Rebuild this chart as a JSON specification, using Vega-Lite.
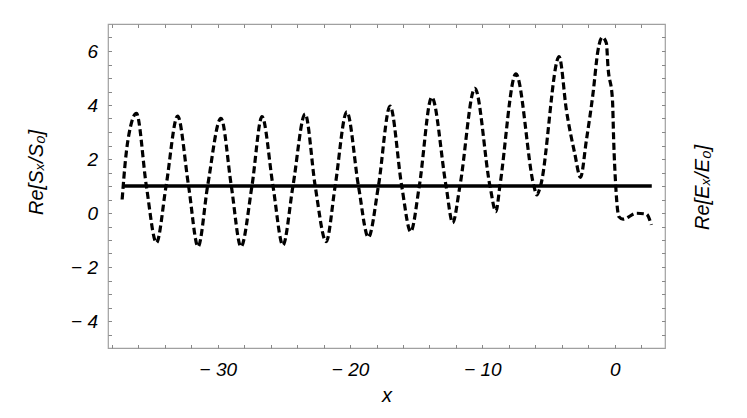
{
  "$schema": "https://vega.github.io/schema/vega-lite/v6.json",
  "width": 557,
  "height": 324,
  "autosize": "none",
  "padding": {"left": 108, "top": 24, "right": 82, "bottom": 70},
  "background": "white",
  "config": {
    "view": {"stroke": "#a0a0a0", "strokeWidth": 1.2},
    "axis": {
      "domain": false,
      "grid": false,
      "ticks": true,
      "tickColor": "#888888",
      "tickWidth": 1,
      "tickSize": -3.5,
      "labelFont": "Liberation Sans",
      "labelFontStyle": "italic",
      "labelFontSize": 19,
      "labelColor": "black",
      "titleFont": "Liberation Sans",
      "titleFontStyle": "italic",
      "titleFontWeight": "normal",
      "titleFontSize": 20,
      "titleColor": "black"
    }
  },
  "datasets": {
    "curve": [
      {"x": -37.23, "y": 0.5},
      {"x": -36.98, "y": 1.96},
      {"x": -36.6, "y": 3.2},
      {"x": -36.15, "y": 3.69},
      {"x": -35.4, "y": 1.0},
      {"x": -34.64, "y": -1.1},
      {"x": -33.91, "y": 1.0},
      {"x": -33.04, "y": 3.59},
      {"x": -32.21, "y": 1.0},
      {"x": -31.49, "y": -1.25},
      {"x": -30.77, "y": 1.0},
      {"x": -29.76, "y": 3.51},
      {"x": -28.98, "y": 1.0},
      {"x": -28.25, "y": -1.25},
      {"x": -27.42, "y": 1.0},
      {"x": -26.66, "y": 3.57},
      {"x": -25.83, "y": 1.0},
      {"x": -25.08, "y": -1.19},
      {"x": -24.32, "y": 1.0},
      {"x": -23.4, "y": 3.67},
      {"x": -22.64, "y": 1.0},
      {"x": -21.81, "y": -1.06},
      {"x": -21.13, "y": 1.0},
      {"x": -20.25, "y": 3.75},
      {"x": -19.37, "y": 1.0},
      {"x": -18.62, "y": -0.9},
      {"x": -17.86, "y": 1.0},
      {"x": -16.98, "y": 3.96},
      {"x": -16.1, "y": 1.0},
      {"x": -15.42, "y": -0.69},
      {"x": -14.77, "y": 1.0},
      {"x": -13.83, "y": 4.29},
      {"x": -12.75, "y": 1.0},
      {"x": -12.25, "y": -0.36},
      {"x": -11.7, "y": 1.0},
      {"x": -10.57, "y": 4.62},
      {"x": -9.43, "y": 1.0},
      {"x": -8.98, "y": 0.05},
      {"x": -8.68, "y": 1.0},
      {"x": -7.47, "y": 5.15},
      {"x": -6.11, "y": 1.0},
      {"x": -5.89, "y": 0.67},
      {"x": -5.61, "y": 1.0},
      {"x": -4.2, "y": 5.79},
      {"x": -3.65, "y": 3.8},
      {"x": -3.02, "y": 2.2},
      {"x": -2.59, "y": 1.32},
      {"x": -2.14, "y": 2.7},
      {"x": -1.64, "y": 4.43},
      {"x": -1.26, "y": 6.04},
      {"x": -0.93, "y": 6.51},
      {"x": -0.63, "y": 6.29},
      {"x": -0.51, "y": 5.42},
      {"x": -0.17, "y": 4.19},
      {"x": -0.08, "y": 2.7},
      {"x": 0.08, "y": 0.97},
      {"x": 0.32, "y": -0.14},
      {"x": 0.63, "y": -0.23},
      {"x": 1.64, "y": -0.01},
      {"x": 2.39, "y": -0.04},
      {"x": 2.77, "y": -0.44}
    ],
    "flat": [
      {"x": -37.2, "y": 1},
      {"x": 2.8, "y": 1}
    ]
  },
  "layer": [
    {
      "data": {"name": "curve"},
      "mark": {"type": "line", "color": "black", "strokeWidth": 3.2, "strokeDash": [7, 3.5], "interpolate": "monotone"},
      "encoding": {
        "x": {
          "field": "x", "type": "quantitative",
          "scale": {"domain": [-38.3, 3.8], "nice": false, "zero": false},
          "axis": {
            "orient": "bottom",
            "title": "x",
            "values": [-38,-36,-34,-32,-30,-28,-26,-24,-22,-20,-18,-16,-14,-12,-10,-8,-6,-4,-2,0,2],
            "labelExpr": "datum.value % 10 === 0 ? (datum.value < 0 ? '− ' + abs(datum.value) : '' + datum.value) : ''",
            "labelPadding": 16,
            "titlePadding": 6
          }
        },
        "y": {
          "field": "y", "type": "quantitative",
          "scale": {"domain": [-5, 7], "nice": false, "zero": false},
          "axis": {
            "orient": "left",
            "title": "Re[Sₓ/S₀]",
            "titleAngle": 270,
            "titleY": 148,
            "values": [-4.5,-4,-3.5,-3,-2.5,-2,-1.5,-1,-0.5,0,0.5,1,1.5,2,2.5,3,3.5,4,4.5,5,5.5,6,6.5],
            "labelExpr": "datum.value % 2 === 0 ? (datum.value < 0 ? '− ' + abs(datum.value) : '' + datum.value) : ''",
            "labelPadding": 14,
            "titlePadding": 24
          }
        }
      }
    },
    {
      "data": {"name": "flat"},
      "mark": {"type": "line", "color": "black", "strokeWidth": 3.5},
      "encoding": {
        "x": {
          "field": "x", "type": "quantitative",
          "scale": {"domain": [-38.3, 3.8], "nice": false, "zero": false},
          "axis": {
            "orient": "top",
            "title": null,
            "labels": false,
            "values": [-38,-36,-34,-32,-30,-28,-26,-24,-22,-20,-18,-16,-14,-12,-10,-8,-6,-4,-2,0,2]
          }
        },
        "y": {
          "field": "y", "type": "quantitative",
          "scale": {"domain": [-5, 7], "nice": false, "zero": false},
          "axis": {
            "orient": "right",
            "title": "Re[Eₓ/E₀]",
            "titleAngle": 270,
            "titleY": 163,
            "labels": false,
            "values": [-4.5,-4,-3.5,-3,-2.5,-2,-1.5,-1,-0.5,0,0.5,1,1.5,2,2.5,3,3.5,4,4.5,5,5.5,6,6.5],
            "titlePadding": 47
          }
        }
      }
    }
  ],
  "resolve": {"axis": {"x": "independent", "y": "independent"}}
}
